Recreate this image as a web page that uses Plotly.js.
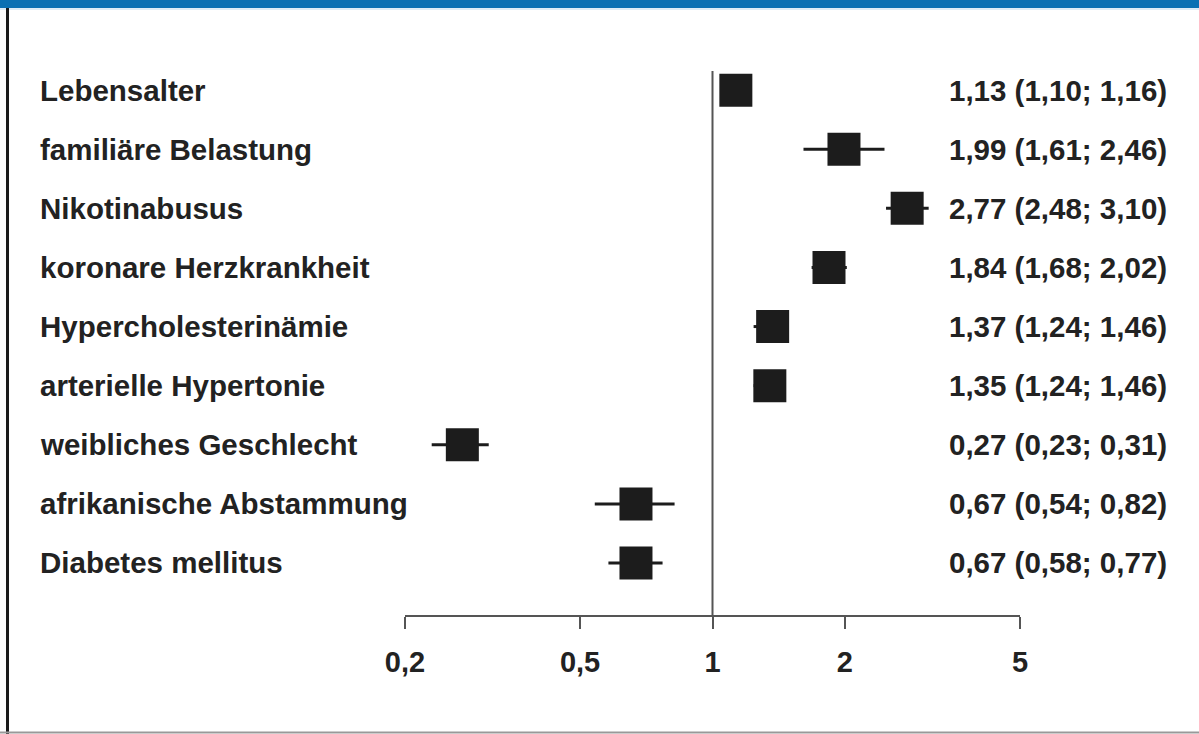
<!DOCTYPE html>
<html>
<head>
<meta charset="utf-8">
<script src="https://cdn.plot.ly/plotly-3.0.1.min.js"></script>
<style>
html,body{margin:0;padding:0;background:#fff;}
#chart{width:1199px;height:734px;}
</style>
</head>
<body>
<div id="chart"></div>
<script>
const factors = ["Lebensalter","familiäre Belastung","Nikotinabusus","koronare Herzkrankheit","Hypercholesterinämie","arterielle Hypertonie","weibliches Geschlecht","afrikanische Abstammung","Diabetes mellitus"];
const estimate = [1.13,1.99,2.77,1.84,1.37,1.35,0.27,0.67,0.67];
const lower = [1.10,1.61,2.48,1.68,1.24,1.24,0.23,0.54,0.58];
const upper = [1.16,2.46,3.10,2.02,1.46,1.46,0.31,0.82,0.77];
const ciText = ["1,13 (1,10; 1,16)","1,99 (1,61; 2,46)","2,77 (2,48; 3,10)","1,84 (1,68; 2,02)","1,37 (1,24; 1,46)","1,35 (1,24; 1,46)","0,27 (0,23; 0,31)","0,67 (0,54; 0,82)","0,67 (0,58; 0,77)"];
const tickVals = [0.2,0.5,1,2,5];
const tickText = ["0,2","0,5","1","2","5"];

const W = 1199, H = 734;
const rows = factors.map((_, i) => i);
const txtColor = "#222";
const fontFam = "Liberation Sans, Arial, sans-serif";

const trace = {
  type: "scatter",
  mode: "markers",
  x: estimate,
  y: rows,
  marker: {symbol: "square", size: 33, color: "#1c1c1c"},
  error_x: {
    type: "data",
    symmetric: false,
    array: upper.map((u, i) => u - estimate[i]),
    arrayminus: lower.map((l, i) => estimate[i] - l),
    thickness: 3,
    width: 0,
    color: "#1c1c1c"
  },
  hoverinfo: "skip",
  showlegend: false
};

const annotations = [];
factors.forEach((f, i) => {
  annotations.push({x: 38 / W, xref: "paper", xanchor: "left", y: i, yref: "y", yanchor: "middle",
    text: f, showarrow: false, font: {family: fontFam, size: 29.5, color: txtColor, weight: "bold"}});
  annotations.push({x: 947 / W, xref: "paper", xanchor: "left", y: i, yref: "y", yanchor: "middle",
    text: ciText[i], showarrow: false, font: {family: fontFam, size: 29.5, color: txtColor, weight: "bold"}});
});

const layout = {
  width: W, height: H,
  margin: {l: 0, r: 0, t: 0, b: 0},
  paper_bgcolor: "#fff", plot_bgcolor: "rgba(0,0,0,0)",
  xaxis: {
    type: "log",
    domain: [405 / W, 1020 / W],
    range: [Math.log10(0.2), Math.log10(5)],
    tickvals: tickVals, ticktext: tickText,
    ticks: "outside", ticklen: 12, tickwidth: 2, tickcolor: "#555",
    showline: true, linecolor: "#555", linewidth: 2,
    showgrid: false, zeroline: false,
    tickfont: {family: fontFam, size: 29, color: txtColor, weight: "bold"},
    ticklabelstandoff: 8,
    fixedrange: true
  },
  yaxis: {
    domain: [1 - 615 / H, 1 - 60 / H],
    range: [8.88, -0.51],
    showticklabels: false, showgrid: false, zeroline: false, showline: false, ticks: "",
    fixedrange: true
  },
  shapes: [
    {type: "line", xref: "x", yref: "paper", x0: 1, x1: 1, y0: 1 - 615 / H, y1: 1 - 71 / H,
      line: {color: "#555", width: 2}},
    {type: "rect", xref: "paper", yref: "paper", x0: 0, x1: 1, y0: 1 - 8 / H, y1: 1,
      fillcolor: "#0b70b3", line: {width: 0}},
    {type: "line", xref: "paper", yref: "paper", x0: 0, x1: 1, y0: 1 - 9 / H, y1: 1 - 9 / H,
      line: {color: "#bcd8ee", width: 1}},
    {type: "line", xref: "paper", yref: "paper", x0: 7.5 / W, x1: 7.5 / W, y0: 0, y1: 1 - 8 / H,
      line: {color: "#1a1a1a", width: 3}},
    {type: "line", xref: "paper", yref: "paper", x0: 0, x1: 1, y0: 1.5 / H, y1: 1.5 / H,
      line: {color: "#999", width: 2}}
  ],
  annotations: annotations
};

Plotly.newPlot("chart", [trace], layout, {displayModeBar: false, staticPlot: true});
</script>
</body>
</html>
